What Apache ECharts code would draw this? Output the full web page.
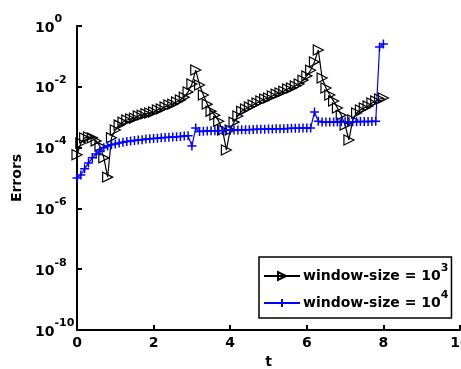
<!DOCTYPE html>
<html>
<head>
<meta charset="utf-8">
<script src="https://cdn.jsdelivr.net/npm/echarts@6/dist/echarts.min.js"></script>
<style>
  html, body { margin: 0; padding: 0; background: #fff; }
  #chart { width: 461px; height: 369px; }
</style>
</head>
<body>
<div id="chart"></div>
<script>
// Time samples
const tValues = [
  0.0, 0.1, 0.2, 0.3, 0.4, 0.5, 0.6, 0.7, 0.8, 0.9,
  1.0, 1.1, 1.2, 1.3, 1.4, 1.5, 1.6, 1.7, 1.8, 1.9,
  2.0, 2.1, 2.2, 2.3, 2.4, 2.5, 2.6, 2.7, 2.8, 2.9,
  3.0, 3.1, 3.2, 3.3, 3.4, 3.5, 3.6, 3.7, 3.8, 3.9,
  4.0, 4.1, 4.2, 4.3, 4.4, 4.5, 4.6, 4.7, 4.8, 4.9,
  5.0, 5.1, 5.2, 5.3, 5.4, 5.5, 5.6, 5.7, 5.8, 5.9,
  6.0, 6.1, 6.2, 6.3, 6.4, 6.5, 6.6, 6.7, 6.8, 6.9,
  7.0, 7.1, 7.2, 7.3, 7.4, 7.5, 7.6, 7.7, 7.8, 7.9,
  8.0
];

// Errors, window-size = 10^3
const errWindow3 = [
  5.8e-5, 1.41e-4, 2.09e-4, 2.24e-4, 2.09e-4, 1.66e-4, 1.12e-4, 4.6e-5, 1.07e-5, 2.1e-4,
  3.8e-4, 5.5e-4, 6.9e-4, 8.1e-4, 8.7e-4, 9.3e-4, 1.10e-3, 1.17e-3, 1.29e-3, 1.38e-3,
  1.48e-3, 1.74e-3, 1.86e-3, 2.19e-3, 2.51e-3, 2.69e-3, 3.16e-3, 3.72e-3, 4.57e-3, 6.8e-3,
  1.23e-2, 3.55e-2, 1.15e-2, 5.4e-3, 2.69e-3, 1.58e-3, 1.17e-3, 7.4e-4, 3.8e-4, 8.3e-5,
  3.8e-4, 6.9e-4, 1.10e-3, 1.58e-3, 1.86e-3, 2.19e-3, 2.51e-3, 2.95e-3, 3.39e-3, 3.98e-3,
  4.27e-3, 5.0e-3, 5.75e-3, 6.3e-3, 7.2e-3, 8.5e-3, 9.1e-3, 1.07e-2, 1.23e-2, 1.66e-2,
  2.29e-2, 3.5e-2, 6.6e-2, 0.162, 1.95e-2, 9.1e-3, 5.4e-3, 3.39e-3, 2.0e-3, 1.17e-3,
  5.5e-4, 1.78e-4, 8.1e-4, 1.38e-3, 1.74e-3, 2.0e-3, 2.34e-3, 2.95e-3, 3.39e-3, 3.98e-3,
  4.27e-3
];

// Errors, window-size = 10^4
const errWindow4 = [
  1.0e-5, 1.26e-5, 2.0e-5, 3.1e-5, 4.6e-5, 6.2e-5, 7.8e-5, 9.8e-5, 1.12e-4, 1.23e-4,
  1.32e-4, 1.41e-4, 1.51e-4, 1.58e-4, 1.66e-4, 1.70e-4, 1.78e-4, 1.82e-4, 1.91e-4, 1.95e-4,
  2.0e-4, 2.04e-4, 2.09e-4, 2.14e-4, 2.19e-4, 2.24e-4, 2.29e-4, 2.34e-4, 2.40e-4, 2.45e-4,
  1.12e-4, 4.4e-4, 3.4e-4, 3.45e-4, 3.5e-4, 3.55e-4, 3.6e-4, 3.6e-4, 3.65e-4, 3.7e-4,
  3.75e-4, 3.8e-4, 3.8e-4, 3.85e-4, 3.9e-4, 3.9e-4, 3.95e-4, 4.0e-4, 4.0e-4, 4.05e-4,
  4.1e-4, 4.1e-4, 4.15e-4, 4.2e-4, 4.2e-4, 4.25e-4, 4.3e-4, 4.3e-4, 4.35e-4, 4.4e-4,
  4.4e-4, 4.45e-4, 1.48e-3, 7.4e-4, 6.9e-4, 6.9e-4, 7.0e-4, 7.0e-4, 7.0e-4, 7.05e-4,
  7.1e-4, 7.1e-4, 7.1e-4, 7.15e-4, 7.2e-4, 7.2e-4, 7.2e-4, 7.25e-4, 7.3e-4, 0.204,
  0.257
];

const seriesNames = ['window-size = 10^3', 'window-size = 10^4'];
const legendExponents = ['3', '4'];
const xAxisName = 't';
const yAxisName = 'Errors';
const xRange = [0, 10, 2];
const yRange = [1e-10, 1];

const FONT = 'DejaVu Sans';

// base "10" sits on the tick, exponent raised above it
const supRich = {
  b: { fontFamily: FONT, fontWeight: 'bold', fontSize: 14, color: '#000', lineHeight: 28, verticalAlign: 'middle', padding: [4, 0, 0, 0] },
  s: { fontFamily: FONT, fontWeight: 'bold', fontSize: 11, color: '#000', lineHeight: 28, verticalAlign: 'top', padding: [2, 0, 0, 0] }
};
const legendRich = {
  b: { fontFamily: FONT, fontWeight: 'bold', fontSize: 14, color: '#000', lineHeight: 26, verticalAlign: 'middle' },
  s: { fontFamily: FONT, fontWeight: 'bold', fontSize: 11, color: '#000', lineHeight: 26, verticalAlign: 'top' }
};

const pairs = (ys) => tValues.map((t, i) => [t, ys[i]]);

const plusPath = 'path://M5,0 L5,10 M0,5 L10,5';

const chart = echarts.init(document.getElementById('chart'), null, { renderer: 'canvas' });

chart.setOption({
  animation: false,
  backgroundColor: '#fff',
  grid: { left: 77, right: 1, top: 26, bottom: 39, containLabel: false, outerBoundsMode: 'none' },
  xAxis: {
    type: 'value',
    min: xRange[0], max: xRange[1], interval: xRange[2],
    name: xAxisName,
    nameLocation: 'middle',
    nameGap: 23,
    nameTextStyle: { fontFamily: FONT, fontWeight: 'bold', fontSize: 14, color: '#000' },
    axisLine: { show: true, lineStyle: { color: '#000', width: 2 } },
    axisTick: { show: true, inside: true, length: 5, lineStyle: { color: '#000', width: 2 } },
    axisLabel: { margin: 6, fontFamily: FONT, fontWeight: 'bold', fontSize: 14, color: '#000' },
    splitLine: { show: false }
  },
  yAxis: {
    type: 'log',
    logBase: 100,
    min: yRange[0], max: yRange[1],
    name: yAxisName,
    nameLocation: 'middle',
    nameGap: 42,
    nameRotate: 90,
    nameTextStyle: { fontFamily: FONT, fontWeight: 'bold', fontSize: 14, color: '#000' },
    axisLine: { show: true, lineStyle: { color: '#000', width: 2 } },
    axisTick: { show: true, inside: true, length: 5, lineStyle: { color: '#000', width: 2 } },
    axisLabel: {
      margin: 42,
      align: 'left',
      formatter: (v) => '{b|10}{s|' + Math.round(Math.log10(v)) + '}',
      rich: supRich
    },
    minorTick: { show: false },
    splitLine: { show: false }
  },
  legend: {
    orient: 'vertical',
    left: 259,
    top: 257,
    padding: [6, 3, 8, 4],
    itemGap: 7,
    itemWidth: 36,
    itemHeight: 10,
    backgroundColor: '#fff',
    borderColor: '#000',
    borderWidth: 1.5,
    borderRadius: 0,
    data: seriesNames,
    formatter: (name) => '{b|window-size = 10}{s|' + legendExponents[seriesNames.indexOf(name)] + '}',
    textStyle: { rich: legendRich, padding: [0, 0, 0, -2] }
  },
  series: [
    {
      name: seriesNames[0],
      type: 'line',
      data: pairs(errWindow3),
      symbol: 'triangle',
      symbolRotate: -90,
      symbolSize: 10,
      showAllSymbol: true,
      lineStyle: { color: '#000', width: 1.2 },
      itemStyle: { color: 'rgba(0,0,0,0)', borderColor: '#000', borderWidth: 1.2 },
      emphasis: { disabled: true }
    },
    {
      name: seriesNames[1],
      type: 'line',
      data: pairs(errWindow4),
      symbol: plusPath,
      symbolSize: 9,
      showAllSymbol: true,
      lineStyle: { color: '#0000ff', width: 1.2 },
      itemStyle: { color: 'rgba(0,0,0,0)', borderColor: '#0000ff', borderWidth: 1.5 },
      emphasis: { disabled: true }
    }
  ]
});
</script>
</body>
</html>
